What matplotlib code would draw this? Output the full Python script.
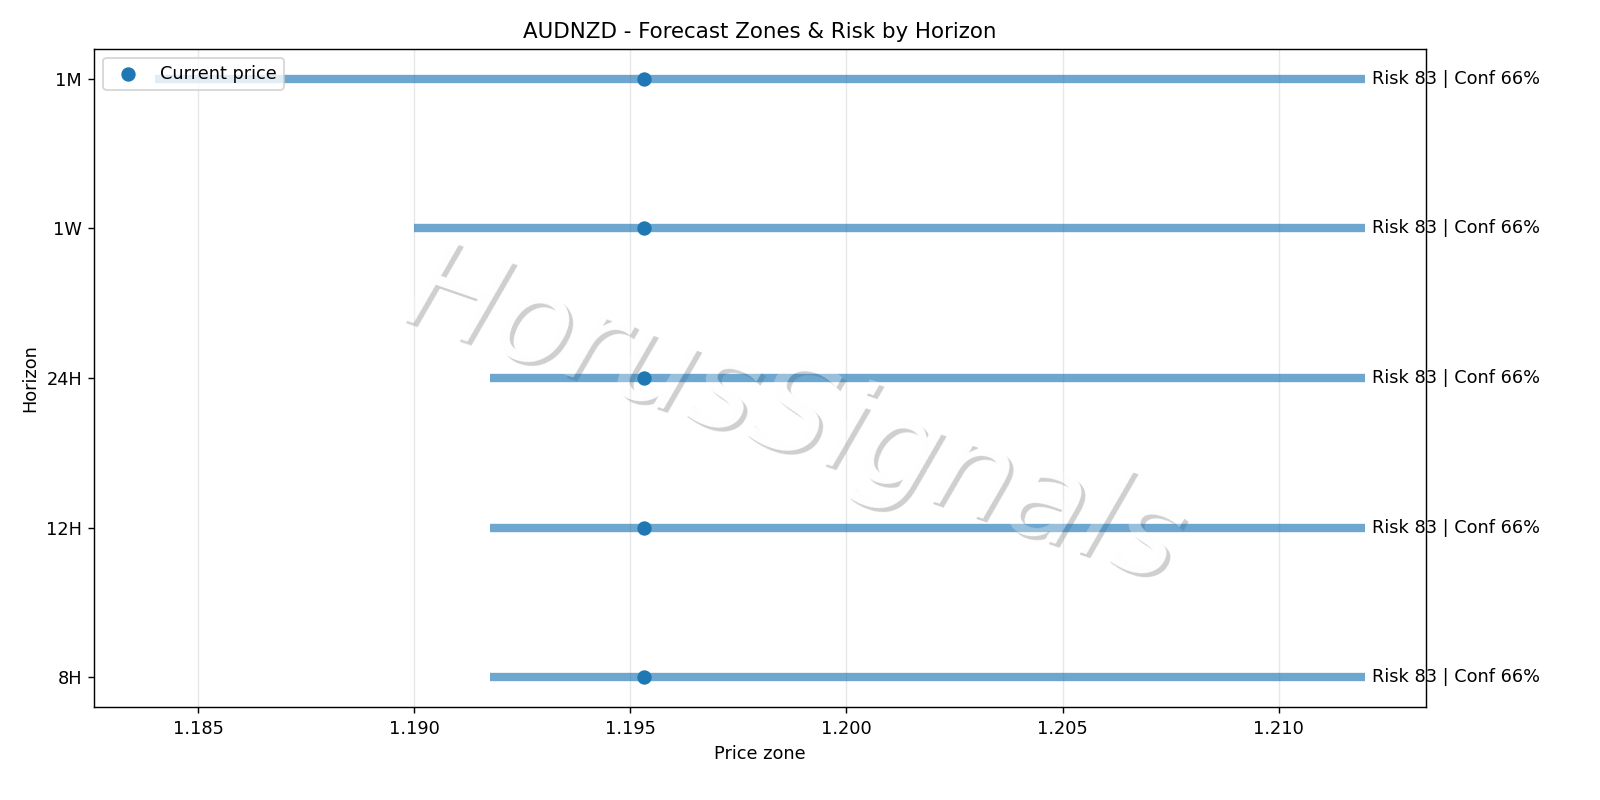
import matplotlib
matplotlib.use('Agg')
import matplotlib.pyplot as plt
import matplotlib.transforms as mtransforms
import numpy as np

# Forecast zones per horizon (bottom to top)
horizons = ['8H', '12H', '24H', '1W', '1M']
zone_low = [1.19175, 1.19175, 1.19175, 1.1900, 1.1840]
zone_high = [1.2120, 1.2120, 1.2120, 1.2120, 1.2120]
current_price = 1.19532
risk = [83, 83, 83, 83, 83]
conf = [66, 66, 66, 66, 66]

symbol = 'AUDNZD'

fig, ax = plt.subplots(figsize=(12.5, 6.25), dpi=128)
fig.subplots_adjust(left=0.059, right=0.891, top=0.939, bottom=0.116)

y = np.arange(len(horizons))
ax.hlines(y, zone_low, zone_high, color='C0', linewidth=4.7, alpha=0.65, zorder=2)
ax.scatter([current_price] * len(horizons), y, s=50, color='C0', zorder=3,
           label='Current price')

for yi, hi, r, c in zip(y, zone_high, risk, conf):
    ax.annotate(f'Risk {r} | Conf {c}%', xy=(hi, yi), xytext=(4, 0),
                textcoords='offset points', va='center', ha='left')

ax.set_yticks(y)
ax.set_yticklabels(horizons)
ax.set_xlabel('Price zone')
ax.set_ylabel('Horizon')
ax.set_title(f'{symbol} - Forecast Zones & Risk by Horizon')
ax.grid(axis='x', alpha=0.3)
leg = ax.legend(loc='upper left')
leg.set_zorder(10)

# Watermark: knocked-out drop shadow, white body, light veil over the marks
wm = dict(fontsize=70, rotation=-19, style='italic', ha='center', va='center',
          clip_on=False)
wm_x, wm_y = 0.496, 0.477
shadow_tr = mtransforms.offset_copy(fig.transFigure, fig=fig, x=2, y=-2,
                                    units='points')
ax.text(wm_x, wm_y, 'HorusSignals', transform=shadow_tr, color='#cfcfcf',
        zorder=1.0, **wm)
ax.text(wm_x, wm_y, 'HorusSignals', transform=fig.transFigure, color='white',
        zorder=1.1, **wm)
ax.text(wm_x, wm_y, 'HorusSignals', transform=fig.transFigure, color='white',
        alpha=0.3, zorder=4, **wm)

fig.savefig('out.png', dpi=128)
